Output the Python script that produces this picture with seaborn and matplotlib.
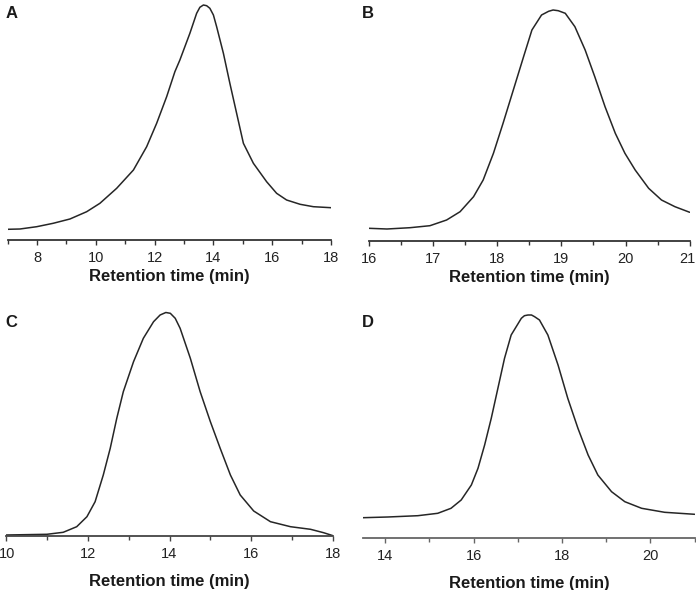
import pandas as pd
import matplotlib.pyplot as plt
import matplotlib.transforms as mtransforms
import seaborn as sns

# Panel A (retention time in min, detector signal in arbitrary units)
time_a = [7.0, 7.42, 7.99, 8.55, 9.12, 9.69, 10.14, 10.71, 11.28, 11.73, 12.07, 12.41,
          12.69, 12.86, 13.20, 13.43, 13.54, 13.66, 13.77, 13.88, 14.0, 14.11, 14.34, 14.56,
          14.79, 15.02, 15.36, 15.81, 16.15, 16.49, 16.95, 17.40, 18.0]
signal_a = [10.7, 11, 13.3, 16.7, 21, 28.3, 36.7, 51.7, 70, 93.3, 116.7, 143.3,
            168.3, 180, 206.7, 226.7, 232.7, 235, 234.3, 231.7, 225, 213.3, 186.7, 156.7,
            126.7, 96.7, 76.7, 58.3, 46.7, 40, 35.7, 33.3, 32.3]

# Panel B
time_b = [16.0, 16.28, 16.64, 16.95, 17.21, 17.42, 17.63, 17.78, 17.94, 18.09, 18.25, 18.41,
          18.54, 18.69, 18.80, 18.87, 18.95, 19.06, 19.21, 19.37, 19.52, 19.68, 19.84, 19.99,
          20.15, 20.36, 20.56, 20.77, 21.0]
signal_b = [12.7, 12, 13.3, 15.3, 21, 29.3, 44.3, 61, 87.7, 117.7, 151, 184.3,
            211, 226, 229.7, 231, 230.3, 227.7, 214.3, 191, 164.3, 134.3, 107.7, 87.7,
            71, 52.7, 41, 34.3, 28.7]

# Panel C
time_c = [10.0, 11.0, 11.40, 11.73, 11.98, 12.18, 12.38, 12.55, 12.71, 12.87, 13.12, 13.36,
          13.61, 13.77, 13.91, 14.02, 14.14, 14.26, 14.51, 14.75, 15.0, 15.24, 15.49, 15.73,
          16.06, 16.47, 16.96, 17.45, 17.77, 18.0]
signal_c = [1, 1.7, 3.7, 9.3, 19.3, 34.3, 61, 87.7, 117.7, 144.3, 174.3, 197.7,
            214.3, 221, 223.5, 222.7, 217.7, 207.7, 177.7, 144.3, 114.3, 87.7, 61, 41,
            25, 14.3, 9.3, 6.7, 3.3, 0.3]

# Panel D
time_d = [13.5, 14.06, 14.74, 15.19, 15.49, 15.72, 15.95, 16.10, 16.25, 16.40, 16.55, 16.70,
          16.85, 17.08, 17.15, 17.23, 17.31, 17.38, 17.49, 17.68, 17.91, 18.13, 18.36, 18.59,
          18.81, 19.12, 19.42, 19.80, 20.32, 21.0]
signal_d = [20.3, 21, 22.3, 24.7, 29.7, 38, 53, 69.7, 93, 119.7, 149.7, 179.7,
            203, 219.7, 222.3, 223, 223, 221.3, 218, 203, 173, 139.7, 109.7, 83,
            63, 46.3, 36.3, 29.7, 25.7, 23.7]

letters = ["A", "B", "C", "D"]
x_limits = [(7, 18), (16, 21), (10, 18), (13.5, 21)]
major_ticks = [[8, 10, 12, 14, 16, 18], [16, 17, 18, 19, 20, 21], [10, 12, 14, 16, 18], [14, 16, 18, 20]]
minor_ticks = [list(range(7, 19)), [16 + 0.5 * i for i in range(11)], list(range(10, 19)), [15, 17, 19, 21]]
curves = [(time_a, signal_a), (time_b, signal_b), (time_c, signal_c), (time_d, signal_d)]

# axes placement in pixels: left, right, axis line y, top y
boxes = [(7.6, 331, 240, 0), (369, 689.7, 241, 0), (6, 333, 536, 295), (363, 694.7, 538, 295)]
label_pads = [3.0, 2.5, 9.5, 9.5]
spine_colors = ["#333333", "#333333", "#444444", "#666666"]
letter_pos = [(6, 13), (362, 13), (5, 322.5), (362, 322.5)]

sns.set_theme(style="white")
plt.rcParams['font.family'] = ['Liberation Sans', 'DejaVu Sans']

W, H = 696, 590
fig = plt.figure(figsize=(W / 100, H / 100), dpi=100)

for i in range(4):
    l, r, ay, ty = boxes[i]
    ax = fig.add_axes([l / W, 1 - ay / H, (r - l) / W, (ay - ty) / H])
    t, s = curves[i]
    df = pd.DataFrame({"time": t, "signal": s})
    sns.lineplot(data=df, x="time", y="signal", ax=ax, color="#262626", linewidth=1.1)
    ax.set_xlim(*x_limits[i])
    ax.set_ylim(0, ay - ty)
    for side in ["top", "right", "left"]:
        ax.spines[side].set_visible(False)
    ax.spines["bottom"].set_color(spine_colors[i])
    ax.spines["bottom"].set_linewidth(1.3)
    ax.set_yticks([])
    ax.set_ylabel("")
    ax.set_xticks(major_ticks[i])
    ax.set_xticks(minor_ticks[i], minor=True)
    ax.tick_params(axis="x", which="both", direction="out", bottom=True, color=spine_colors[i],
                   labelsize=10.5, labelcolor="#222222", pad=4.5, width=1)
    ax.tick_params(axis="x", which="major", length=3.5)
    ax.tick_params(axis="x", which="minor", length=3)
    ax.set_xlabel("Retention time (min)", fontsize=12, fontweight="bold", labelpad=label_pads[i],
                  color="#1a1a1a")
    ax.patch.set_alpha(0)

    # keep the edge tick labels ("21" right, "10" left) inside the figure
    tick_labels = ax.get_xticklabels()
    if i == 1:
        shift = mtransforms.ScaledTranslation(-2 / 100, 0, fig.dpi_scale_trans)
        tick_labels[-1].set_transform(tick_labels[-1].get_transform() + shift)
    if i == 2:
        shift = mtransforms.ScaledTranslation(1.5 / 100, 0, fig.dpi_scale_trans)
        tick_labels[0].set_transform(tick_labels[0].get_transform() + shift)

    lx, ly = letter_pos[i]
    fig.text(lx / W, 1 - ly / H, letters[i], fontsize=12, fontweight="bold",
             va="center", ha="left", color="#1a1a1a")

fig.savefig("out.png", dpi=100)
